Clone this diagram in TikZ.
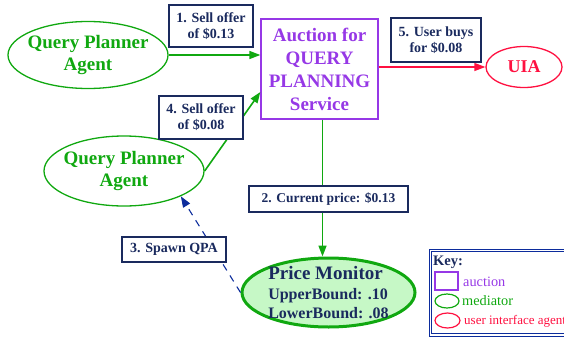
\documentclass[tikz,border=0pt]{standalone}
\usepackage{fontspec}
\setmainfont{Liberation Serif}
\usetikzlibrary{arrows.meta,shapes.geometric}
\definecolor{agentgreen}{HTML}{10A810}
\definecolor{auctionpurple}{HTML}{9638E6}
\definecolor{uiared}{HTML}{FF1040}
\definecolor{labelnavy}{HTML}{1A2A5E}
\definecolor{spawnblue}{HTML}{0C2C9C}
\definecolor{monitorfill}{HTML}{C6F8C6}

\begin{document}
\begin{tikzpicture}[x=1pt,y=-1pt,
  agent/.style={ellipse,draw=agentgreen,line width=1.3pt,text=agentgreen,inner xsep=-14pt,inner ysep=0pt,
    align=center,font=\fontsize{19}{22}\selectfont\bfseries},
  auction/.style={rectangle,draw=auctionpurple,line width=1.3pt,text=auctionpurple,inner sep=0pt,
    align=center,font=\fontsize{19}{23}\selectfont\bfseries},
  uiav/.style={ellipse,draw=uiared,line width=1.3pt,text=uiared,inner sep=0pt,
    font=\fontsize{18}{22}\selectfont\bfseries},
  monitor/.style={ellipse,draw=agentgreen,fill=monitorfill,line width=3pt,text=labelnavy,
    inner xsep=-8pt,inner ysep=-12pt,align=left,font=\fontsize{16}{19}\selectfont\bfseries},
  msg/.style={rectangle,draw=labelnavy,fill=white,line width=1.3pt,text=labelnavy,inner sep=0pt,
    align=center,font=\fontsize{14}{16}\selectfont\bfseries},
  flow/.style={draw=agentgreen,line width=1.6pt,-{Triangle[length=11pt,width=8pt]}},
  buy/.style={draw=uiared,line width=1.3pt,-{Triangle[length=11pt,width=8pt]}},
  spawn/.style={draw=spawnblue,line width=1.1pt,dash pattern=on 7pt off 6pt,-{Triangle[length=11pt,width=8pt]}},
  keytext/.style={anchor=west,inner sep=0pt,font=\fontsize{14.3}{16}\selectfont}]
\useasboundingbox (0,0) rectangle (564,337);
\node[agent,minimum width=160,minimum height=67] (qpaA) at (88,55) {Query Planner\\Agent};
\node[agent,minimum width=160,minimum height=70] (qpaB) at (124,171) {Query Planner\\Agent};
\node[auction,minimum width=117,minimum height=100] (auc) at (319.5,69) {Auction for\\QUERY\\PLANNING\\Service};
\node[uiav,minimum width=76,minimum height=41] (uia) at (524,67) {UIA};
\node[monitor,minimum width=173,minimum height=69] (pm) at (328.5,292.5)
  {{\fontsize{19}{21}\selectfont Price Monitor}\\[1pt]UpperBound: .10\\LowerBound: .08};
\draw[flow] (qpaA.east) -- (qpaA.east -| auc.west);
\draw[flow] (qpaB.east) -- ([yshift=-23pt]auc.west);
\draw[flow] ([xshift=3pt]auc.south) -- ([xshift=3pt]auc.south |- pm.north);
\draw[buy] (uia.west -| auc.east) -- (uia.west);
\draw[spawn] (pm.west) -- (qpaB.336);
\node[msg,minimum width=84,minimum height=42] (m1) at (211,26) {1. Sell offer\\of \$0.13};
\node[msg,minimum width=159,minimum height=26,font=\fontsize{13.5}{16}\selectfont\bfseries] (m2) at (328.5,199) {2. Current price: \$0.13};
\node[msg,minimum width=104,minimum height=25] (m3) at (174,249.5) {3. Spawn QPA};
\node[msg,minimum width=84,minimum height=43] (m4) at (201,117.5) {4. Sell offer\\of \$0.08};
\node[msg,minimum width=90,minimum height=44] (m5) at (436,40) {5. User buys\\for \$0.08};
\draw[draw=spawnblue,line width=1.1pt,double,double distance=1.1pt] (430.5,250.5) rectangle (580,335);
\node[keytext,text=labelnavy,font=\fontsize{14.5}{16}\selectfont\bfseries] (keyhead) at (433,262) {Key:};
\node[rectangle,draw=auctionpurple,line width=1.2pt,minimum width=23,minimum height=18,inner sep=0pt] (keyauc) at (446.5,281) {};
\node[keytext,text=auctionpurple] (keyauct) at (463,282) {auction};
\node[ellipse,draw=agentgreen,line width=1.2pt,minimum width=24,minimum height=14,inner sep=0pt] (keymed) at (447,301) {};
\node[keytext,text=agentgreen] (keymedt) at (462,301) {mediator};
\node[ellipse,draw=uiared,line width=1.2pt,minimum width=25,minimum height=15,inner sep=0pt] (keyuia) at (447.5,320.5) {};
\node[keytext,text=uiared,font=\fontsize{13}{16}\selectfont] (keyuiat) at (464,321) {user interface agent};
\end{tikzpicture}
\end{document}
